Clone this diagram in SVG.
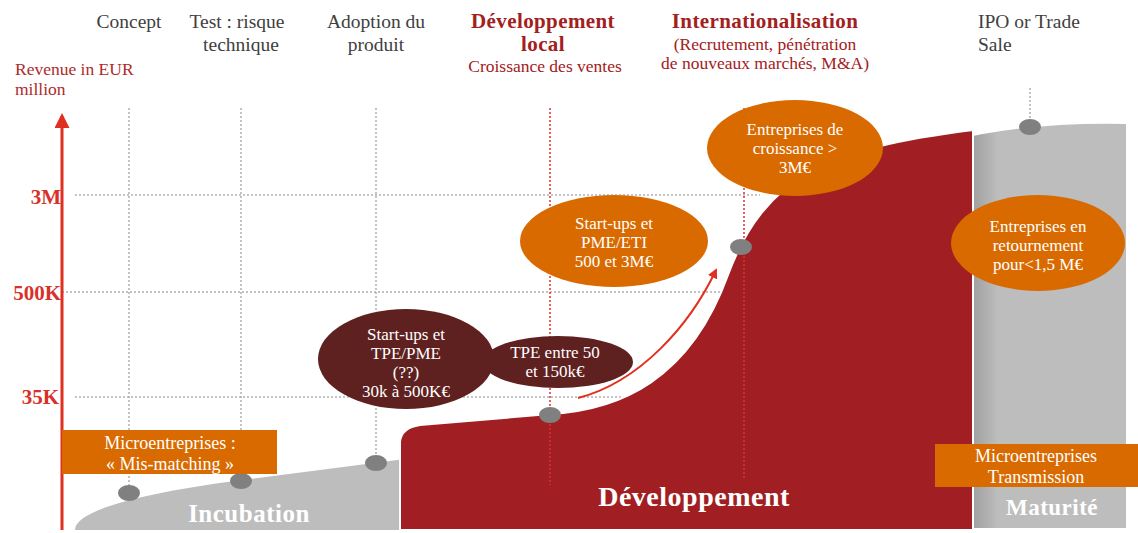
<svg xmlns="http://www.w3.org/2000/svg" width="1138" height="533" viewBox="0 0 1138 533">
<defs>
<style>
text{font-family:"Liberation Serif","DejaVu Serif",serif;}
.top{font-size:19.5px;fill:#404040;text-anchor:middle;}
.dev{font-size:21px;fill:#a32020;font-weight:bold;text-anchor:middle;letter-spacing:0.4px;}
.devs{font-size:17.5px;fill:#a32020;text-anchor:middle;}
.ax{font-size:21px;fill:#d7322a;font-weight:bold;text-anchor:end;}
.wt{font-size:17px;fill:#ffffff;text-anchor:middle;}
.big{font-weight:bold;fill:#ffffff;text-anchor:middle;letter-spacing:0.5px;}
.grid{stroke:#b0b0b0;stroke-width:1.5;stroke-dasharray:2 2;fill:none;}
.rgrid{stroke:#e03030;stroke-width:1.5;stroke-dasharray:2 2;fill:none;}
.dot{fill:#808080;}
.orange{fill:#d96a00;}
.brown{fill:#5e2120;}
</style>
<marker id="ah" viewBox="0 0 10 10" refX="8" refY="5" markerWidth="5" markerHeight="5" orient="auto-start-reverse">
<path d="M0,0 L10,5 L0,10 Z" fill="#e03020"/>
</marker>
<linearGradient id="gshade" x1="0" y1="0" x2="1" y2="0">
<stop offset="0" stop-color="#8a8a8a"/>
<stop offset="0.25" stop-color="#bdbdbd"/>
<stop offset="1" stop-color="#bdbdbd"/>
</linearGradient>
</defs>
<rect width="1138" height="533" fill="#ffffff"/>

<g id="grid">
<line class="grid" x1="75" y1="195" x2="760" y2="195"/>
<line class="grid" x1="62" y1="292" x2="1000" y2="292"/>
<line class="grid" x1="75" y1="397" x2="640" y2="397"/>
<line class="grid" x1="129" y1="108" x2="129" y2="492"/>
<line class="grid" x1="241" y1="108" x2="241" y2="480"/>
<line class="grid" x1="376" y1="108" x2="376" y2="462"/>
<line class="grid" x1="1030" y1="88" x2="1030" y2="125"/>
</g>

<g id="shapes">
<path id="maturite-shape" d="M955 140 Q1030 122 1126 124 L1126 528 L955 528 Z" fill="url(#gshade)"/>
<path id="incubation-shape" d="M75 530 C75 508 160 490 250 479 L405 459 L405 530 Z" fill="#bdbdbd"/>
<path id="developpement-shape" d="M400 530 L400 442 Q401 428 420 425 L550 414 C620 410 690 380 728 275 C765 175 830 148 973 130 L973 530 Z" fill="#a11f22" stroke="#ffffff" stroke-width="2"/>
</g>

<g id="red-grid">
<line class="rgrid" x1="550" y1="108" x2="550" y2="485"/>
<line class="rgrid" x1="744" y1="108" x2="744" y2="480"/>
</g>

<g id="axis">
<line x1="62" y1="530" x2="62" y2="116" stroke="#e03020" stroke-width="3" marker-end="url(#ah)"/>
<text class="ax" x="61" y="204">3M</text>
<text class="ax" x="61" y="300">500K</text>
<text class="ax" x="59" y="404">35K</text>
<text x="15" y="75" font-size="17.5" fill="#b02a2a">Revenue in EUR</text>
<text x="15" y="95" font-size="17.5" fill="#b02a2a">million</text>
</g>

<g id="dots">
<ellipse class="dot" cx="129" cy="493" rx="11" ry="8"/>
<ellipse class="dot" cx="241" cy="481" rx="11" ry="8"/>
<ellipse class="dot" cx="376" cy="463" rx="11" ry="8"/>
<ellipse class="dot" cx="550" cy="415" rx="11" ry="8"/>
<ellipse class="dot" cx="741" cy="247" rx="11" ry="8"/>
<ellipse class="dot" cx="1030" cy="127" rx="11" ry="8"/>
</g>

<g id="connectors">
<path d="M578 398 C640 382 690 325 716 270" fill="none" stroke="#e03020" stroke-width="2" marker-end="url(#ah)"/>
</g>

<g id="top-labels">
<text class="top" x="129" y="28">Concept</text>
<text class="top" x="237" y="28">Test : risque</text>
<text class="top" x="241" y="51">technique</text>
<text class="top" x="376" y="28">Adoption du</text>
<text class="top" x="376" y="51">produit</text>
<text class="dev" x="543" y="28">Développement</text>
<text class="dev" x="543" y="51">local</text>
<text class="devs" x="545" y="72">Croissance des ventes</text>
<text class="dev" x="765" y="28">Internationalisation</text>
<text class="devs" x="765" y="50">(Recrutement, pénétration</text>
<text class="devs" x="765" y="69">de nouveaux marchés, M&amp;A)</text>
<text class="top" x="978" y="28" style="text-anchor:start">IPO or Trade</text>
<text class="top" x="978" y="51" style="text-anchor:start">Sale</text>
</g>

<g id="node-startups-tpe">
<ellipse class="brown" cx="406" cy="359" rx="88" ry="50"/>
<text class="wt" x="406" y="340">Start-ups  et</text>
<text class="wt" x="406" y="359">TPE/PME</text>
<text class="wt" x="406" y="378">(??)</text>
<text class="wt" x="406" y="397">30k à 500K€</text>
</g>
<g id="node-tpe-50">
<ellipse class="brown" cx="558" cy="362" rx="75" ry="26"/>
<text class="wt" x="555" y="358">TPE entre 50</text>
<text class="wt" x="555" y="377">et 150k€</text>
</g>
<g id="node-pme-eti">
<ellipse class="orange" cx="614" cy="241" rx="94" ry="46"/>
<text class="wt" x="614" y="229">Start-ups  et</text>
<text class="wt" x="614" y="248">PME/ETI</text>
<text class="wt" x="614" y="267">500 et  3M€</text>
</g>
<g id="node-croissance">
<ellipse class="orange" cx="795" cy="148" rx="88" ry="48"/>
<text class="wt" x="795" y="135">Entreprises de</text>
<text class="wt" x="795" y="154">croissance &gt;</text>
<text class="wt" x="795" y="173">3M€</text>
</g>
<g id="node-retournement">
<ellipse class="orange" cx="1038" cy="243" rx="87" ry="48"/>
<text class="wt" x="1038" y="232">Entreprises en</text>
<text class="wt" x="1038" y="251">retournement</text>
<text class="wt" x="1038" y="270">pour&lt;1,5 M€</text>
</g>
<g id="node-mismatching">
<rect class="orange" x="62" y="430" width="215" height="44"/>
<text class="wt" x="170" y="449" style="font-size:18px">Microentreprises  :</text>
<text class="wt" x="170" y="470" style="font-size:18px">« Mis-matching »</text>
</g>
<g id="node-transmission">
<rect class="orange" x="935" y="444" width="203" height="43"/>
<text class="wt" x="1036" y="462" style="font-size:18px">Microentreprises</text>
<text class="wt" x="1036" y="483" style="font-size:18px">Transmission</text>
</g>

<g id="phase-labels">
<text class="big" x="249" y="522" font-size="25">Incubation</text>
<text class="big" x="694" y="506" font-size="28">Développement</text>
<text class="big" x="1052" y="515" font-size="23">Maturité</text>
</g>
</svg>
